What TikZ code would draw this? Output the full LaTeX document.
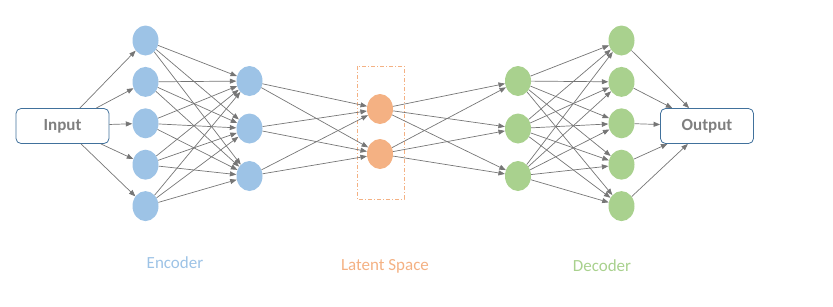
\documentclass[tikz,border=0pt]{standalone}
\usepackage{fontspec}
\setmainfont{Carlito}
\usetikzlibrary{shapes.geometric, arrows.meta}
\definecolor{encblue}{RGB}{157, 195, 230}
\definecolor{latorange}{RGB}{244, 177, 131}
\definecolor{decgreen}{RGB}{169, 209, 142}
\definecolor{boxblue}{RGB}{65, 113, 156}
\definecolor{linegray}{RGB}{118, 118, 118}
\definecolor{textgray}{RGB}{127, 127, 127}

\begin{document}
\begin{tikzpicture}[x=1pt, y=-1pt,
  neuron/.style={ellipse, minimum width=26pt, minimum height=30pt, inner sep=0pt},
  iobox/.style={draw=boxblue, line width=0.8pt, rounded corners=5pt,
    minimum width=93pt, minimum height=35pt, text=textgray,
    font=\fontsize{17}{19}\selectfont\bfseries},
  conn/.style={linegray, line width=0.7pt, -{Triangle[length=6.5pt, width=5pt]}},
  layerlabel/.style={font=\fontsize{17}{19}\selectfont}]
  \useasboundingbox (0,0) rectangle (833,306);

  % 输入输出
  \node[iobox] (in) at (62.5,126) {Input};
  \node[iobox] (out) at (707,126) {Output};

  % 编码器
  \foreach \i in {1,...,5}
    \node[neuron, fill=encblue] (e\i) at (145.5,{40.5+41.4*(\i-1)}) {};
  \foreach \i in {1,...,3}
    \node[neuron, fill=encblue] (h\i) at (249.5,{81+47.5*(\i-1)}) {};

  % 隐空间
  \node[neuron, fill=latorange] (z1) at (380,109) {};
  \node[neuron, fill=latorange] (z2) at (380,154) {};
  \draw[latorange, line width=0.7pt, dash pattern=on 4pt off 2pt on 1pt off 2pt]
    (357,66) rectangle (404,199);

  % 解码器
  \foreach \i in {1,...,3}
    \node[neuron, fill=decgreen] (g\i) at (518,{81+47.5*(\i-1)}) {};
  \foreach \i in {1,...,5}
    \node[neuron, fill=decgreen] (d\i) at (621.5,{40.5+41.4*(\i-1)}) {};

  % 连线
  \foreach \i in {1,...,5} {
    \draw[conn] (in) -- (e\i);
    \draw[conn] (d\i) -- (out);
    \foreach \j in {1,...,3} {
      \draw[conn] (e\i) -- (h\j);
      \draw[conn] (g\j) -- (d\i);
    }
  }
  \foreach \j in {1,...,3}
    \foreach \k in {1,2} {
      \draw[conn] (h\j) -- (z\k);
      \draw[conn] (z\k) -- (g\j);
    }

  % 标注
  \node[layerlabel, text=encblue] (enclabel) at (175,263) {Encoder};
  \node[layerlabel, text=latorange] (latlabel) at (385,266) {Latent Space};
  \node[layerlabel, text=decgreen] (declabel) at (602,266) {Decoder};
\end{tikzpicture}
\end{document}
